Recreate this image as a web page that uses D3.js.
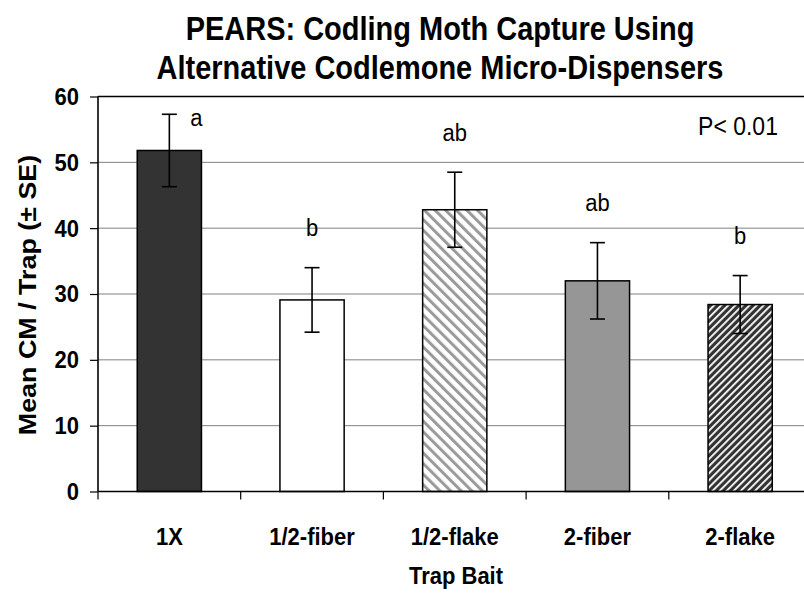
<!DOCTYPE html>
<html>
<head>
<meta charset="utf-8">
<script src="https://cdn.jsdelivr.net/npm/d3@7"></script>
<style>
  html, body { margin: 0; padding: 0; background: #fff; }
  svg { display: block; font-family: "Liberation Sans", Arial, sans-serif; }
</style>
</head>
<body>
<svg id="chart" width="804" height="594"></svg>
<script>
// values
const categories = ["1X", "1/2-fiber", "1/2-flake", "2-fiber", "2-flake"];
const means = [51.8, 29.1, 42.8, 32.0, 28.4];
const errors = [5.5, 4.9, 5.7, 5.8, 4.4];
const letters = ["a", "b", "ab", "ab", "b"];
const yTicks = [0, 10, 20, 30, 40, 50, 60];

const fills = ["#333333", "#ffffff", "url(#lightDiag)", "#969696", "url(#darkDiag)"];
const STRETCH = 1.12; // the source text is a bit taller than wide

const svg = d3.select("#chart");
const plotLeft = 98, plotRight = 811.5, plotTop = 96.5, plotBottom = 491.5;

const x = d3.scaleBand()
  .domain(categories)
  .range([plotLeft, plotRight])
  .paddingInner(0.55)
  .paddingOuter(0.275);

const y = d3.scaleLinear().domain([0, 60]).range([plotBottom, plotTop]);

// text placed at (tx, ty) and stretched vertically
const tallText = (sel, tx, ty) => sel.attr("transform", `translate(${tx},${ty}) scale(1,${STRETCH})`);

// hatch patterns
const defs = svg.append("defs");
const light = defs.append("pattern")
  .attr("id", "lightDiag")
  .attr("patternUnits", "userSpaceOnUse")
  .attr("width", 7.5).attr("height", 7.5)
  .attr("patternTransform", "rotate(-45)");
light.append("rect").attr("width", 7.5).attr("height", 7.5).attr("fill", "#fff");
light.append("rect").attr("width", 3).attr("height", 7.5).attr("fill", "#9a9a9a");

const dark = defs.append("pattern")
  .attr("id", "darkDiag")
  .attr("patternUnits", "userSpaceOnUse")
  .attr("width", 5).attr("height", 5)
  .attr("patternTransform", "rotate(45)");
dark.append("rect").attr("width", 5).attr("height", 5).attr("fill", "#333");
dark.append("rect").attr("width", 1.8).attr("height", 5).attr("fill", "#fff");

// gridlines
svg.append("g")
  .selectAll("line")
  .data(yTicks.filter(d => d > 0 && d < 60))
  .join("line")
  .attr("x1", plotLeft).attr("x2", 804)
  .attr("y1", d => y(d)).attr("y2", d => y(d))
  .attr("stroke", "#808080").attr("stroke-width", 1);

svg.append("line")
  .attr("x1", plotLeft).attr("x2", 804)
  .attr("y1", y(60)).attr("y2", y(60))
  .attr("stroke", "#000").attr("stroke-width", 1.3);

// y axis
const yAxis = svg.append("g")
  .attr("transform", `translate(${plotLeft},0)`)
  .call(d3.axisLeft(y).tickValues(yTicks).tickSize(8).tickPadding(11));
yAxis.select(".domain").remove();
yAxis.selectAll(".tick line").attr("stroke", "#000").attr("stroke-width", 1.2);
yAxis.selectAll("text")
  .attr("font-size", 22).attr("font-weight", "bold")
  .attr("font-family", "Liberation Sans, Arial, sans-serif")
  .attr("fill", "#000")
  .attr("transform", `scale(1,${STRETCH})`);

// bars
svg.append("g")
  .selectAll("rect")
  .data(categories)
  .join("rect")
  .attr("x", d => x(d))
  .attr("width", x.bandwidth())
  .attr("y", (d, i) => y(means[i]))
  .attr("height", (d, i) => y(0) - y(means[i]))
  .attr("fill", (d, i) => fills[i])
  .attr("stroke", "#000").attr("stroke-width", 1.5);

// error bars
const eb = svg.append("g").attr("stroke", "#000").attr("stroke-width", 1.6);
categories.forEach((c, i) => {
  const cx = x(c) + x.bandwidth() / 2;
  const hi = y(means[i] + errors[i]), lo = y(means[i] - errors[i]);
  eb.append("line").attr("x1", cx).attr("x2", cx).attr("y1", hi).attr("y2", lo);
  eb.append("line").attr("x1", cx - 7.5).attr("x2", cx + 7.5).attr("y1", hi).attr("y2", hi);
  eb.append("line").attr("x1", cx - 7.5).attr("x2", cx + 7.5).attr("y1", lo).attr("y2", lo);
});

// axis lines
svg.append("line")
  .attr("x1", plotLeft).attr("x2", plotLeft).attr("y1", plotTop).attr("y2", plotBottom)
  .attr("stroke", "#000").attr("stroke-width", 1.6);
svg.append("line")
  .attr("x1", plotLeft).attr("x2", 804).attr("y1", plotBottom).attr("y2", plotBottom)
  .attr("stroke", "#000").attr("stroke-width", 1.6);

// x category boundary ticks
svg.append("g")
  .selectAll("line")
  .data(d3.range(categories.length + 1))
  .join("line")
  .attr("x1", i => plotLeft + i * x.step()).attr("x2", i => plotLeft + i * x.step())
  .attr("y1", plotBottom).attr("y2", plotBottom + 8)
  .attr("stroke", "#000").attr("stroke-width", 1.2);

// x labels
svg.append("g")
  .selectAll("text")
  .data(categories)
  .join("text")
  .attr("transform", d => `translate(${x(d) + x.bandwidth() / 2},545) scale(1,${STRETCH})`)
  .attr("text-anchor", "middle")
  .attr("font-size", 22).attr("font-weight", "bold")
  .text(d => d);

// significance letters
svg.append("g")
  .selectAll("text")
  .data(categories)
  .join("text")
  .attr("transform", (d, i) => {
    const tx = x(d) + x.bandwidth() / 2 + (i === 0 ? 27 : 0);
    const ty = i === 0 ? y(means[i] + errors[i]) + 12 : y(means[i] + errors[i] + 6) + 8;
    return `translate(${tx},${ty}) scale(1,${STRETCH})`;
  })
  .attr("text-anchor", "middle")
  .attr("font-size", 22)
  .text((d, i) => letters[i]);

svg.append("text")
  .call(tallText, 738, 135)
  .attr("text-anchor", "middle")
  .attr("font-size", 23)
  .text("P< 0.01");

// titles
svg.append("text")
  .call(tallText, 440, 40)
  .attr("text-anchor", "middle")
  .attr("font-size", 29).attr("font-weight", "bold")
  .text("PEARS: Codling Moth Capture Using");
svg.append("text")
  .call(tallText, 440, 79)
  .attr("text-anchor", "middle")
  .attr("font-size", 29).attr("font-weight", "bold")
  .text("Alternative Codlemone Micro-Dispensers");

svg.append("text")
  .call(tallText, 456, 584)
  .attr("text-anchor", "middle")
  .attr("font-size", 22).attr("font-weight", "bold")
  .text("Trap Bait");

svg.append("text")
  .attr("transform", `translate(36,295) rotate(-90) scale(${STRETCH},1)`)
  .attr("text-anchor", "middle")
  .attr("font-size", 24).attr("font-weight", "bold")
  .text("Mean CM / Trap (± SE)");
</script>
</body>
</html>
